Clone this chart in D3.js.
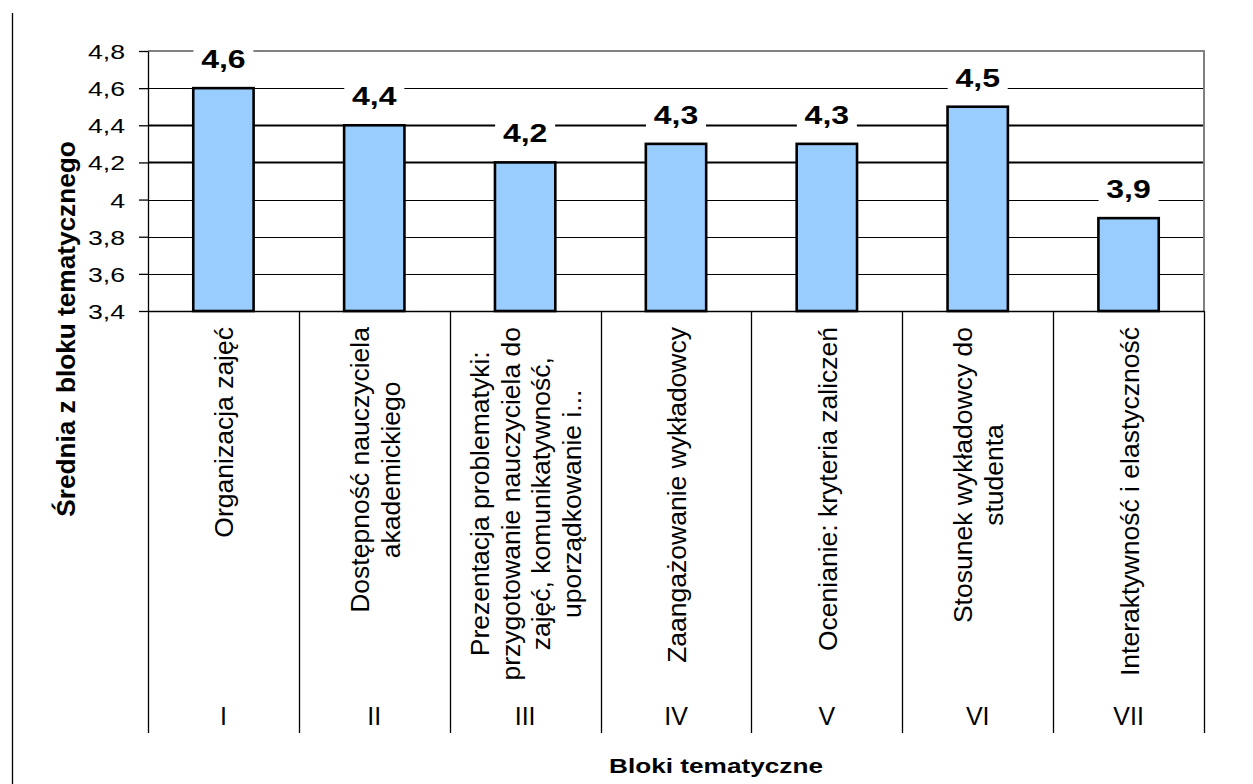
<!DOCTYPE html>
<html>
<head>
<meta charset="utf-8">
<script src="https://cdn.jsdelivr.net/npm/d3@7"></script>
<style>
  html, body { margin: 0; padding: 0; background: #fff; }
  svg { display: block; font-family: "Liberation Sans", Arial, sans-serif; }
</style>
</head>
<body>
<script>
// ---- data ----
const romanLabels = ["I", "II", "III", "IV", "V", "VI", "VII"];
const categoryLines = [
  ["Organizacja zajęć"],
  ["Dostępność nauczyciela", "akademickiego"],
  ["Prezentacja problematyki:", "przygotowanie nauczyciela do", "zajęć, komunikatywność,", "uporządkowanie i..."],
  ["Zaangażowanie wykładowcy"],
  ["Ocenianie: kryteria zaliczeń"],
  ["Stosunek wykładowcy do", "studenta"],
  ["Interaktywność i elastyczność"]
];
const values = [4.6, 4.4, 4.2, 4.3, 4.3, 4.5, 3.9];
const yTicks = [3.4, 3.6, 3.8, 4.0, 4.2, 4.4, 4.6, 4.8];
const yTitle = "Średnia z bloku tematycznego";
const xTitle = "Bloki tematyczne";

// ---- layout ----
const W = 1253, H = 784;
const plot = { left: 148, right: 1204, top: 51, bottom: 311 };
const divBottom = 733;
const fmt = v => String(+v.toFixed(1)).replace(".", ",");

const svg = d3.select("body").append("svg").attr("width", W).attr("height", H);

const x = d3.scaleBand().domain(romanLabels).range([plot.left, plot.right]).padding(0);
const xBar = d3.scaleBand().domain(romanLabels).range([plot.left, plot.right]).paddingInner(0.6).paddingOuter(0.3);
const y = d3.scaleLinear().domain([3.4, 4.8]).range([plot.bottom, plot.top]);

function stretch(sel, k) {
  sel.each(function () {
    const L = this.getComputedTextLength();
    d3.select(this).attr("textLength", L * k).attr("lengthAdjust", "spacingAndGlyphs");
  });
}

// outer chart border (left edge only visible)
svg.append("line").attr("x1", 12.5).attr("x2", 12.5).attr("y1", 13).attr("y2", H)
  .attr("stroke", "#000").attr("stroke-width", 1.3);

// gridlines
svg.append("g").selectAll("line").data(yTicks.filter(t => t > 3.45 && t < 4.75)).join("line")
  .attr("x1", plot.left).attr("x2", plot.right)
  .attr("y1", d => Math.round(y(d)) + 0.5).attr("y2", d => Math.round(y(d)) + 0.5)
  .attr("stroke", "#000").attr("stroke-width", d => (d > 4.1 && d < 4.5) ? 2 : 1.2);

// plot border top/right (gray)
svg.append("path")
  .attr("d", `M${plot.left},${plot.top}H${plot.right}V${plot.bottom}`)
  .attr("fill", "none").attr("stroke", "#808080").attr("stroke-width", 2);

// bars
svg.append("g").selectAll("rect").data(values).join("rect")
  .attr("x", (d, i) => xBar(romanLabels[i]))
  .attr("width", xBar.bandwidth())
  .attr("y", d => y(d))
  .attr("height", d => y(3.4) - y(d))
  .attr("fill", "#99CCFF").attr("stroke", "#000").attr("stroke-width", 2.6);

// y axis
const yAxis = d3.axisLeft(y).tickValues(yTicks).tickSize(9).tickSizeOuter(0).tickFormat(fmt);
const gy = svg.append("g").attr("transform", `translate(${plot.left},0)`).call(yAxis);
gy.select(".domain").attr("stroke", "#000").attr("stroke-width", 1.3);
gy.selectAll(".tick line").attr("stroke", "#000").attr("stroke-width", 1.3);
gy.selectAll(".tick text")
  .attr("x", -23).attr("dy", null).attr("y", 7.5)
  .attr("font-size", 21).attr("fill", "#000")
  .attr("font-family", "'Liberation Sans', Arial, sans-serif")
  .call(stretch, 1.27);

// category axis: bottom line + dividers
svg.append("line").attr("x1", plot.left).attr("x2", plot.right)
  .attr("y1", plot.bottom + 0.5).attr("y2", plot.bottom + 0.5)
  .attr("stroke", "#000").attr("stroke-width", 1.3);
const bounds = romanLabels.map(c => x(c)).concat([plot.right]);
svg.append("g").selectAll("line").data(bounds).join("line")
  .attr("x1", d => Math.round(d) + 0.5).attr("x2", d => Math.round(d) + 0.5)
  .attr("y1", plot.bottom).attr("y2", divBottom)
  .attr("stroke", "#000").attr("stroke-width", 1.3);

// bar value labels with white boxes
const lbl = svg.append("g").selectAll("g").data(values).join("g")
  .attr("transform", (d, i) => `translate(${x(romanLabels[i]) + x.bandwidth() / 2},${y(d) - 20})`);
lbl.append("rect").attr("x", -30).attr("width", 60).attr("y", -27).attr("height", 33).attr("fill", "#fff");
lbl.append("text").attr("text-anchor", "middle").attr("font-size", 25).attr("font-weight", "bold")
  .attr("fill", "#000").text(d => fmt(d)).call(stretch, 1.28);

// category labels (rotated, multi-line)
const lineStep = 30.5;
categoryLines.forEach((lines, i) => {
  const cx = x(romanLabels[i]) + x.bandwidth() / 2;
  const n = lines.length;
  const texts = svg.append("g").selectAll("text").data(lines).join("text")
    .attr("text-anchor", "middle").attr("font-size", 26.5).attr("fill", "#000")
    .text(d => d);
  let maxLen = 0;
  texts.each(function () { maxLen = Math.max(maxLen, this.getComputedTextLength()); });
  const yc = 327 + maxLen / 2;
  texts.attr("transform", (d, j) => `translate(${cx + 10 + (j - (n - 1) / 2) * lineStep},${yc}) rotate(-90)`);
});

// roman numerals
svg.append("g").selectAll("text").data(romanLabels).join("text")
  .attr("x", d => x(d) + x.bandwidth() / 2).attr("y", 725)
  .attr("text-anchor", "middle").attr("font-size", 25).attr("fill", "#000")
  .text(d => d);

// axis titles
svg.append("text").attr("transform", "translate(75,329) rotate(-90)")
  .attr("text-anchor", "middle").attr("font-size", 26.2).attr("font-weight", "bold")
  .attr("fill", "#000").text(yTitle);
svg.append("text").attr("x", 716).attr("y", 773)
  .attr("text-anchor", "middle").attr("font-size", 20).attr("font-weight", "bold")
  .attr("fill", "#000").text(xTitle).call(stretch, 1.31);
</script>
</body>
</html>
